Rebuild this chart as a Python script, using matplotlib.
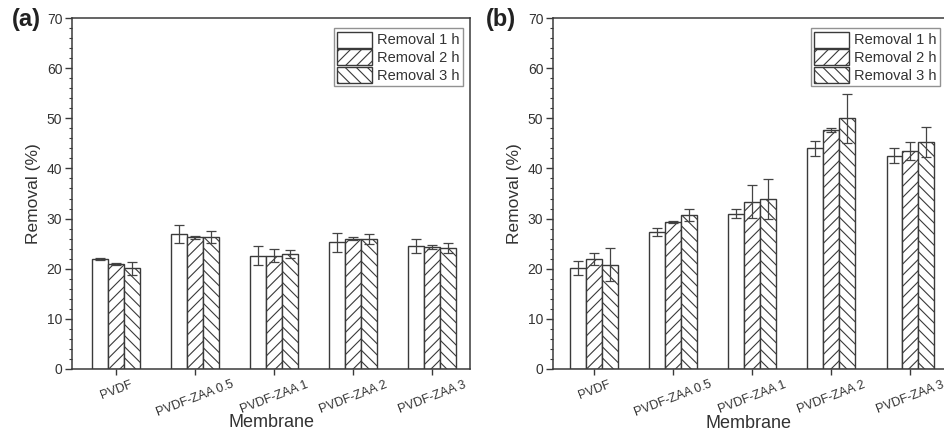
import matplotlib
matplotlib.use("Agg")
import matplotlib.pyplot as plt
from matplotlib.ticker import MultipleLocator
from matplotlib.transforms import ScaledTranslation
import numpy as np

plt.rcParams['font.family'] = ['Liberation Sans', 'DejaVu Sans']
plt.rcParams['hatch.linewidth'] = 0.8
plt.rcParams['hatch.color'] = '#555555'

categories = ["PVDF", "PVDF-ZAA 0.5", "PVDF-ZAA 1", "PVDF-ZAA 2", "PVDF-ZAA 3"]
series_labels = ["Removal 1 h", "Removal 2 h", "Removal 3 h"]

# Panel (a)
a_1h = [22.0, 26.9, 22.6, 25.3, 24.6]
a_1h_err = [0.2, 1.8, 1.9, 1.9, 1.4]
a_2h = [20.9, 26.3, 22.6, 26.0, 24.4]
a_2h_err = [0.15, 0.3, 1.3, 0.3, 0.4]
a_3h = [20.1, 26.3, 22.9, 26.0, 24.1]
a_3h_err = [1.3, 1.2, 0.8, 1.0, 1.0]

# Panel (b)
b_1h = [20.1, 27.4, 31.0, 44.0, 42.5]
b_1h_err = [1.4, 0.8, 0.9, 1.5, 1.5]
b_2h = [21.9, 29.3, 33.4, 47.7, 43.4]
b_2h_err = [1.2, 0.15, 3.2, 0.4, 1.8]
b_3h = [20.8, 30.8, 33.9, 50.0, 45.2]
b_3h_err = [3.3, 1.2, 3.9, 4.9, 3.0]

yticks = [0, 10, 20, 30, 40, 50, 60, 70]

W, H = 945, 432
fig = plt.figure(figsize=(W / 100, H / 100), dpi=100)

edge = '#3a3a3a'
txt = '#333333'
hatches = [None, '///', '\\\\\\']


def draw_panel(ax, vals, errs, xlim, right_spine, legend_anchor, xlabelpad):
    x = np.arange(1, len(categories) + 1)
    width = 0.2
    offsets = [-width, 0, width]
    for i, (v, e) in enumerate(zip(vals, errs)):
        ax.bar(x + offsets[i], v, width, color='white', edgecolor=edge,
               linewidth=1.0, hatch=hatches[i], label=series_labels[i], zorder=2)
        ax.errorbar(x + offsets[i], v, yerr=e, fmt='none', ecolor='#444444',
                    elinewidth=0.9, capsize=3.5, capthick=0.9, zorder=3)
    ax.set_xlim(*xlim)
    ax.set_ylim(0, 70)
    ax.set_yticks(yticks)
    ax.yaxis.set_minor_locator(MultipleLocator(2))
    ax.set_xticks(x)
    ax.set_xticklabels(categories, rotation=21, ha='center', fontsize=9, color=txt)
    shift = ScaledTranslation(-4 / 100, 0, fig.dpi_scale_trans)
    for lab in ax.get_xticklabels():
        lab.set_transform(lab.get_transform() + shift)
    ax.tick_params(axis='y', which='major', direction='out', length=5, width=1.0,
                   labelsize=10, labelcolor=txt, color=edge, pad=2)
    ax.tick_params(axis='y', which='minor', direction='out', length=2.5, width=0.8, color=edge)
    ax.tick_params(axis='x', which='major', direction='out', length=4, width=1.0,
                   color=edge, pad=3)
    for s in ['left', 'bottom', 'top', 'right']:
        ax.spines[s].set_color(edge)
        ax.spines[s].set_linewidth(1.1)
    ax.spines['right'].set_visible(right_spine)
    ax.set_ylabel('Removal (%)', fontsize=12.5, color=txt, labelpad=4)
    ax.set_xlabel('Membrane', fontsize=13, color=txt, labelpad=xlabelpad)
    leg = ax.legend(loc='upper right', bbox_to_anchor=legend_anchor, fontsize=10.5,
                    frameon=True, fancybox=False, edgecolor='#777777',
                    handlelength=2.4, handleheight=1.3, labelspacing=0.12,
                    handletextpad=0.3, borderpad=0.25, borderaxespad=0.0)
    leg.get_frame().set_linewidth(1.0)
    for t in leg.get_texts():
        t.set_color(txt)


ax_h = (369 - 18)
ax_a = fig.add_axes([72 / W, 63 / H, (470 - 72) / W, ax_h / H])
draw_panel(ax_a, [a_1h, a_2h, a_3h], [a_1h_err, a_2h_err, a_3h_err],
           (0.443, 5.48), True, ((463 - 72) / (470 - 72), 1 - 10 / ax_h), -4)

ax_b = fig.add_axes([553 / W, 63 / H, (945 - 553) / W, ax_h / H])
draw_panel(ax_b, [b_1h, b_2h, b_3h], [b_1h_err, b_2h_err, b_3h_err],
           (0.48, 5.44), False, ((940 - 553) / (945 - 553), 1 - 10 / ax_h), -3)

fig.text(12 / W, 1 - 8 / H, '(a)', fontsize=17, fontweight='bold', va='top', ha='left', color='#222222')
fig.text(486 / W, 1 - 8 / H, '(b)', fontsize=17, fontweight='bold', va='top', ha='left', color='#222222')

fig.savefig('out.png', dpi=100, facecolor='white')
